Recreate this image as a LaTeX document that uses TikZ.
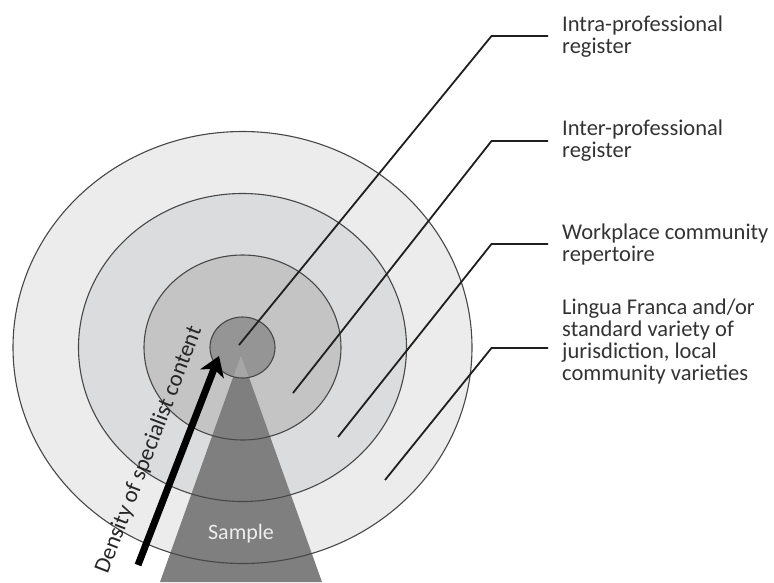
\documentclass[tikz,border=0pt]{standalone}
\usepackage{fontspec}
\setmainfont{Carlito}
\usepackage{xcolor}
\usetikzlibrary{positioning}
\usetikzlibrary{arrows.meta}

\definecolor{ringA}{HTML}{ECECEC}
\definecolor{ringB}{HTML}{DBDCDD}
\definecolor{ringC}{HTML}{C4C4C4}
\definecolor{ringD}{HTML}{959595}
\definecolor{cone}{HTML}{7F7F7F}
\definecolor{conetop}{HTML}{A6A6A6}
\definecolor{ringline}{HTML}{474747}
\definecolor{labtext}{HTML}{333333}

\begin{document}
\begin{tikzpicture}[x=1pt,y=-1pt,
  ring/.style={draw=ringline,line width=1.1pt},
  leader/.style={draw=black!88,line width=1.8pt},
  lab/.style={anchor=west,align=left,inner xsep=14pt,inner ysep=0pt,text=labtext,
    font=\fontsize{22.5}{22}\selectfont},
  density/.style={line width=7pt,-{Stealth[length=19pt,width=25pt,inset=5pt]}}]
  \useasboundingbox (0,0) rectangle (774,582);
  \coordinate (c) at (242.5,347.5);
  % Rings
  \fill[ringA] (c) ellipse [x radius=229.5,y radius=216];
  \fill[ringB] (c) ellipse [x radius=164,y radius=154];
  \fill[ringC] (c) ellipse [x radius=98.5,y radius=92.5];
  \fill[ringD] (c) ellipse [x radius=32.5,y radius=30.5];
  % Sample cone
  \coordinate (apex) at (241,355);
  \coordinate (bl) at (160,582);
  \coordinate (br) at (322,582);
  \fill[cone] (apex) -- (bl) -- (br) -- cycle;
  \begin{scope}
    \clip (c) ellipse [x radius=32.5,y radius=30.5];
    \fill[conetop] (apex) -- (bl) -- (br) -- cycle;
  \end{scope}
  \draw[ring] (c) ellipse [x radius=229.5,y radius=216];
  \draw[ring] (c) ellipse [x radius=164,y radius=154];
  \draw[ring] (c) ellipse [x radius=98.5,y radius=92.5];
  \draw[ring] (c) ellipse [x radius=32.5,y radius=30.5];
  \node[text=white!93!black,font=\fontsize{22}{22}\selectfont] (sample) at (241,534) {Sample};

  % Labels and leaders
  \node[lab] (intra) at (548,37) {Intra-professional\\register};
  \node[lab] (inter) at (548,141) {Inter-professional\\register};
  \node[lab] (work) at (548,244.5) {Workplace community\\repertoire};
  \node[lab] (lingua) at (548,341) {Lingua Franca and/or\\standard variety of\\jurisdiction, local\\community varieties};
  \coordinate (s1) at (239,345);  \coordinate (b1) at (491.5,36);
  \coordinate (s2) at (293,393);  \coordinate (b2) at (491.5,141);
  \coordinate (s3) at (338,437);  \coordinate (b3) at (491.5,244);
  \coordinate (s4) at (385,480);  \coordinate (b4) at (491.5,348);
  \draw[leader] (s1) -- (b1) -- (b1 -| intra.west);
  \draw[leader] (s2) -- (b2) -- (b2 -| inter.west);
  \draw[leader] (s3) -- (b3) -- (b3 -| work.west);
  \draw[leader] (s4) -- (b4) -- (b4 -| lingua.west);

  % Density arrow
  \coordinate (tail) at (138,565);
  \coordinate (tip) at (219,356);
  \draw[density] (tail) -- (tip);
  \node[rotate=69,inner sep=0pt,text=black!85,font=\fontsize{23}{23}\selectfont]
    (dens) at (149,450) {Density of specialist content};
\end{tikzpicture}
\end{document}
